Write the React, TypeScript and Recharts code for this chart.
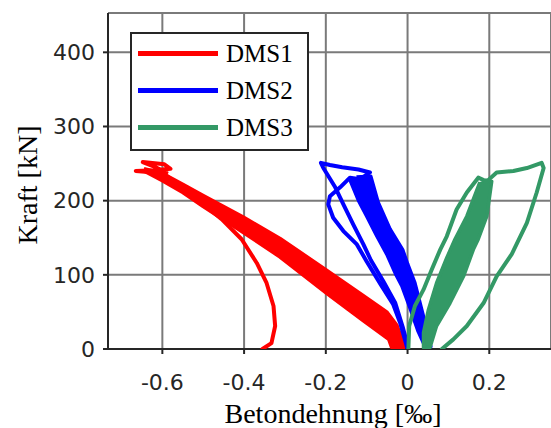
import React from 'react';
import {
    ScatterChart,
    Scatter,
    XAxis,
    YAxis,
    CartesianGrid,
    Legend,
    Label
} from 'recharts';

type Pt = { x: number; y: number };

const RED = '#ff0000';
const BLUE = '#0000ff';
const GREEN = '#339966';
const AXIS = '#262626';

const X_TICKS = [-0.6, -0.4, -0.2, 0, 0.2];
const Y_TICKS = [0, 100, 200, 300, 400];

// DMS1: dense band of load cycles + first loading / unloading curve
const dms1Band: Pt[] = [
    { x: -0.645, y: 243 }, { x: -0.6, y: 237 }, { x: -0.55, y: 222 }, { x: -0.5, y: 207 },
    { x: -0.402, y: 178 }, { x: -0.312, y: 149 }, { x: -0.2, y: 107 }, { x: -0.108, y: 72 },
    { x: -0.051, y: 50 }, { x: -0.026, y: 32 }, { x: -0.012, y: 11 }, { x: -0.009, y: 2 },
    { x: -0.039, y: 2 }, { x: -0.046, y: 13 }, { x: -0.108, y: 38 }, { x: -0.198, y: 75 },
    { x: -0.312, y: 124 }, { x: -0.402, y: 157 }, { x: -0.5, y: 192 }, { x: -0.55, y: 211 },
    { x: -0.6, y: 227 }, { x: -0.645, y: 240 }
];
const dms1Loop: Pt[] = [
    { x: -0.355, y: 0 }, { x: -0.333, y: 8 }, { x: -0.324, y: 31 }, { x: -0.328, y: 58 },
    { x: -0.345, y: 89 }, { x: -0.369, y: 116 }, { x: -0.406, y: 148 }, { x: -0.455, y: 175 },
    { x: -0.508, y: 199 }, { x: -0.549, y: 217 }, { x: -0.589, y: 233 }, { x: -0.62, y: 238 },
    { x: -0.665, y: 240 }, { x: -0.62, y: 241 }, { x: -0.58, y: 243 }, { x: -0.595, y: 249 },
    { x: -0.648, y: 252 }, { x: -0.62, y: 246 }, { x: -0.59, y: 238 }
];

// DMS2
const dms2Band: Pt[] = [
    { x: -0.141, y: 228 }, { x: -0.12, y: 200 }, { x: -0.1, y: 179 }, { x: -0.075, y: 152 },
    { x: -0.051, y: 128 }, { x: -0.03, y: 102 }, { x: -0.014, y: 85 }, { x: 0.006, y: 55 },
    { x: 0.025, y: 25 }, { x: 0.043, y: 3 }, { x: 0.057, y: 3 }, { x: 0.05, y: 20 },
    { x: 0.039, y: 44 }, { x: 0.018, y: 89 }, { x: 0.0, y: 115 }, { x: -0.012, y: 134 },
    { x: -0.043, y: 162 }, { x: -0.072, y: 198 }, { x: -0.09, y: 233 }, { x: -0.125, y: 232 }
];
const dms2Loop: Pt[] = [
    { x: 0.0, y: 0 }, { x: -0.018, y: 35 }, { x: -0.035, y: 60 }, { x: -0.067, y: 88 },
    { x: -0.1, y: 118 }, { x: -0.124, y: 141 }, { x: -0.157, y: 159 }, { x: -0.182, y: 177 },
    { x: -0.194, y: 195 }, { x: -0.19, y: 206 }, { x: -0.165, y: 218 }, { x: -0.141, y: 231 },
    { x: -0.116, y: 229 }, { x: -0.092, y: 238 }, { x: -0.12, y: 242 }, { x: -0.16, y: 245 },
    { x: -0.19, y: 248 }, { x: -0.212, y: 251 }, { x: -0.206, y: 244 }, { x: -0.177, y: 218 },
    { x: -0.157, y: 195 }, { x: -0.133, y: 168 }, { x: -0.108, y: 141 }, { x: -0.09, y: 120 },
    { x: -0.06, y: 92 }, { x: -0.03, y: 62 }, { x: -0.012, y: 30 }, { x: 0.0, y: 5 }
];

// DMS3
const dms3Band: Pt[] = [
    { x: 0.177, y: 225 }, { x: 0.145, y: 179 }, { x: 0.116, y: 148 }, { x: 0.096, y: 123 },
    { x: 0.071, y: 89 }, { x: 0.051, y: 53 }, { x: 0.039, y: 22 }, { x: 0.039, y: 2 },
    { x: 0.055, y: 2 }, { x: 0.071, y: 31 }, { x: 0.104, y: 62 }, { x: 0.137, y: 98 },
    { x: 0.161, y: 134 }, { x: 0.173, y: 148 }, { x: 0.194, y: 179 }, { x: 0.206, y: 226 },
    { x: 0.19, y: 228 }
];
const dms3Loop: Pt[] = [
    { x: 0.002, y: 0 }, { x: 0.004, y: 31 }, { x: 0.018, y: 58 }, { x: 0.039, y: 80 },
    { x: 0.059, y: 107 }, { x: 0.08, y: 134 }, { x: 0.096, y: 152 }, { x: 0.12, y: 188 },
    { x: 0.145, y: 211 }, { x: 0.173, y: 231 }, { x: 0.185, y: 228 }, { x: 0.194, y: 226 },
    { x: 0.218, y: 238 }, { x: 0.259, y: 240 }, { x: 0.292, y: 244 }, { x: 0.328, y: 251 },
    { x: 0.333, y: 244 }, { x: 0.316, y: 211 }, { x: 0.292, y: 170 }, { x: 0.255, y: 128 },
    { x: 0.218, y: 98 }, { x: 0.186, y: 62 }, { x: 0.145, y: 31 }, { x: 0.112, y: 13 },
    { x: 0.084, y: 0 }
];

const LEGEND_ITEMS = [
    { name: 'DMS1', color: RED },
    { name: 'DMS2', color: BLUE },
    { name: 'DMS3', color: GREEN }
];

const noDot = () => <g />;

const renderLegend = () => (
    <div style={{ width: 169, height: 113.6, padding: '1px 0 0 6px', border: `2px solid ${AXIS}`, background: '#fff' }}>
        {LEGEND_ITEMS.map((item) => (
            <div key={item.name} style={{ height: 37, display: 'flex', alignItems: 'center' }}>
                <div style={{ width: 80, height: 5, background: item.color, marginRight: 8 }} />
                <span style={{ fontFamily: '"Liberation Serif", serif', fontSize: 25, lineHeight: 1, color: '#000' }}>{item.name}</span>
            </div>
        ))}
    </div>
);

const renderXLabel = (props: any) => {
    const { x, y } = props.viewBox;
    return (
        <text x={x + 225} y={y + 74} textAnchor="middle" fontFamily='"Liberation Serif", serif' fontSize={28} fill="#000">
            Betondehnung [‰]
        </text>
    );
};

const renderYLabel = (props: any) => {
    const { y } = props.viewBox;
    const cx = 27;
    const cy = y + 172;
    return (
        <text x={cx} y={cy} transform={`rotate(-90 ${cx} ${cy})`} textAnchor="middle" dominantBaseline="central"
            fontFamily='"Liberation Serif", serif' fontSize={28} fill="#000">
            Kraft [kN]
        </text>
    );
};

export default function App() {
    const tickStyle = { fontFamily: '"DejaVu Sans", sans-serif', fontSize: 22, fill: AXIS };
    const bandLine = (color: string) => ({ stroke: color, strokeWidth: 3.5, fill: color, strokeLinejoin: 'round' });
    const thinLine = (color: string) => ({ stroke: color, strokeWidth: 4, strokeLinejoin: 'round', strokeLinecap: 'round' });

    return (
        <div style={{ position: 'absolute', left: 0, top: 0, width: 551, height: 428, background: '#fff' }}>
            <ScatterChart width={551} height={428} margin={{ top: 13, right: 0, bottom: 0, left: 0 }}>
                <CartesianGrid stroke="#7a7a7a" strokeWidth={2} />
                <XAxis
                    type="number"
                    dataKey="x"
                    domain={[-0.733, 0.351]}
                    allowDataOverflow
                    ticks={X_TICKS}
                    tickFormatter={(v) => String(v)}
                    height={79}
                    tickSize={5}
                    tickMargin={20}
                    tick={tickStyle}
                    axisLine={{ stroke: AXIS, strokeWidth: 2 }}
                    tickLine={{ stroke: AXIS, strokeWidth: 2 }}
                >
                    <Label content={renderXLabel} />
                </XAxis>
                <YAxis
                    type="number"
                    dataKey="y"
                    domain={[0, 453]}
                    allowDataOverflow
                    ticks={Y_TICKS}
                    width={108}
                    tickSize={5}
                    tickMargin={8}
                    tick={tickStyle}
                    axisLine={{ stroke: AXIS, strokeWidth: 2 }}
                    tickLine={{ stroke: AXIS, strokeWidth: 2 }}
                >
                    <Label content={renderYLabel} />
                </YAxis>
                <Legend
                    layout="vertical"
                    align="center"
                    verticalAlign="middle"
                    content={renderLegend}
                    wrapperStyle={{ left: 130, top: 32, width: 'auto', height: 'auto' }}
                />

                <Scatter name="DMS1 band" data={dms1Band} fill={RED} shape={noDot} legendType="none" isAnimationActive={false}
                    line={bandLine(RED)} />
                <Scatter name="DMS1" data={dms1Loop} fill={RED} shape={noDot} isAnimationActive={false}
                    line={thinLine(RED)} />

                <Scatter name="DMS2 band" data={dms2Band} fill={BLUE} shape={noDot} legendType="none" isAnimationActive={false}
                    line={bandLine(BLUE)} />
                <Scatter name="DMS2" data={dms2Loop} fill={BLUE} shape={noDot} isAnimationActive={false}
                    line={thinLine(BLUE)} />

                <Scatter name="DMS3 band" data={dms3Band} fill={GREEN} shape={noDot} legendType="none" isAnimationActive={false}
                    line={bandLine(GREEN)} />
                <Scatter name="DMS3" data={dms3Loop} fill={GREEN} shape={noDot} isAnimationActive={false}
                    line={thinLine(GREEN)} />
            </ScatterChart>
        </div>
    );
}
